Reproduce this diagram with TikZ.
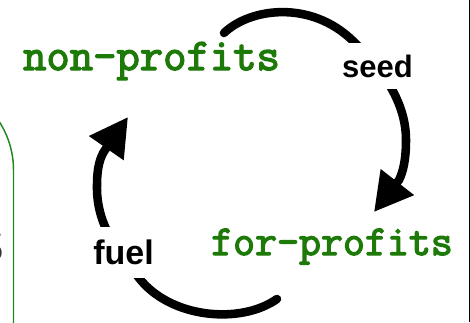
\documentclass[tikz,border=0pt]{standalone}
\usepackage{fontspec}
\usetikzlibrary{arrows.meta}
\newfontfamily\labfont{Liberation Sans}
\newfontfamily\twfont{Latin Modern Mono}[FakeBold=3]
\definecolor{leafgreen}{RGB}{30,122,8}
\definecolor{boxgreen}{RGB}{30,135,30}
\begin{document}
\begin{tikzpicture}[x=0.75pt,y=-0.75pt,
  cyc/.style={line width=6.4pt, line cap=round, -{Triangle[length=28.5pt,width=30pt]}},
  lab/.style={fill=white, inner xsep=2pt, inner ysep=9pt, text=black},
  tw/.style={text=leafgreen, inner sep=0pt, anchor=base}]
\clip (0,0) rectangle (470,322);
% partial green box at the left edge
\draw[boxgreen, line width=1.1pt, rounded corners=66.75pt] (-200,81) rectangle (13.5,420);
\node[anchor=base east, inner sep=0pt, text=black!80, font=\labfont\fontsize{37pt}{40pt}\selectfont] (cut) at (5,262) {S};
% right border
\draw[line width=1pt] (469.3,0) -- (469.3,322);
% cycle arrows
\coordinate (a0) at (224,33);
\coordinate (a1) at (352,40);
\coordinate (a2) at (406,140);
\coordinate (a3) at (399,180);
\coordinate (a4) at (374,212);
\draw[cyc] (a0) .. controls (250,8) and (310,0) .. (a1) .. controls (380,67) and (406,100) .. (a2) .. controls (406,160) and (403,172) .. (a3) -- (a4);
\coordinate (b0) at (277,299);
\coordinate (b1) at (139,278);
\coordinate (b2) at (97,185);
\coordinate (b3) at (105,150);
\coordinate (b4) at (128,117);
\draw[cyc] (b0) .. controls (240,325) and (170,318) .. (b1) .. controls (118,251) and (96,225) .. (b2) .. controls (97,168) and (100,157) .. (b3) -- (b4);
% labels
\node[lab, font=\labfont\bfseries\fontsize{23.25pt}{24pt}\selectfont] (seed) at (377.5,66) {seed};
\node[lab, inner ysep=9.4pt, font=\labfont\bfseries\fontsize{25.5pt}{26pt}\selectfont] (fuel) at (123.5,252.5) {fuel};
\node[tw, font=\twfont\fontsize{34pt}{36pt}\selectfont] (np) at (151.5,70) {non-profits};
\node[tw, font=\twfont\fontsize{32pt}{34pt}\selectfont] (fp) at (332,255) {for-profits};
\end{tikzpicture}
\end{document}
